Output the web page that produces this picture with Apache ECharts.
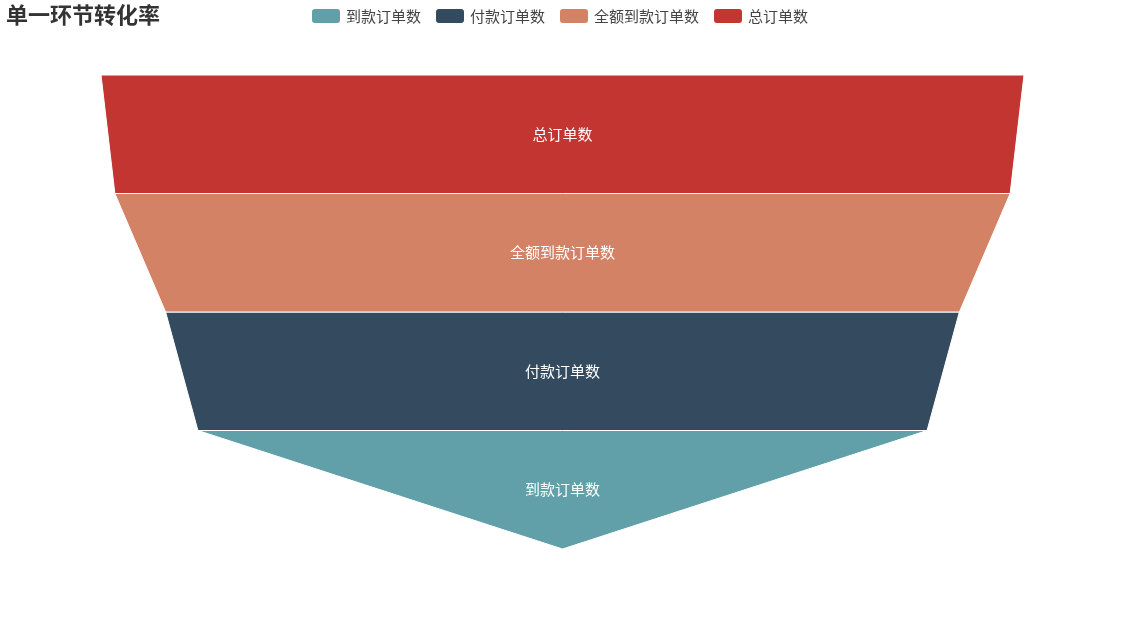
<!DOCTYPE html>
<html>
<head>
<meta charset="utf-8">
<script src="https://cdn.jsdelivr.net/npm/echarts@6/dist/echarts.min.js"></script>
<style>
html,body{margin:0;padding:0;background:#fff;}
#main{width:1125px;height:625px;}
</style>
</head>
<body>
<div id="main"></div>
<script>
const titleText = '单一环节转化率';
const categories = ['到款订单数', '付款订单数', '全额到款订单数', '总订单数'];
const values = [79, 86, 97, 100];
const colors = ['#61a0a8', '#344a5e', '#d48265', '#c23531'];

const chart = echarts.init(document.getElementById('main'), null, {renderer: 'canvas'});
const fontFamily = '"Noto Sans CJK SC", "Microsoft YaHei", sans-serif';
chart.setOption({
  animation: false,
  textStyle: {fontFamily: fontFamily},
  color: colors,
  title: {
    text: titleText,
    left: 1,
    top: -1,
    textStyle: {fontSize: 22, fontWeight: 'bold', color: '#333', fontFamily: fontFamily}
  },
  legend: {
    data: categories,
    left: 305,
    top: 2,
    itemWidth: 30,
    itemHeight: 16,
    itemGap: 13,
    icon: 'roundRect',
    textStyle: {fontSize: 15, color: '#444', fontFamily: fontFamily}
  },
  series: [{
    type: 'funnel',
    left: 101,
    top: 75,
    width: 923,
    height: 474,
    min: 0,
    max: 100,
    minSize: '0%',
    maxSize: '100%',
    sort: 'descending',
    gap: 0,
    label: {show: true, position: 'inside', color: '#fff', fontSize: 15, fontFamily: fontFamily, offset: [0, -2]},
    labelLine: {show: false},
    itemStyle: {borderColor: '#fff', borderWidth: 1},
    emphasis: {disabled: true},
    data: categories.map((c, i) => ({name: c, value: values[i], itemStyle: {color: colors[i]}}))
  }]
});
</script>
</body>
</html>
